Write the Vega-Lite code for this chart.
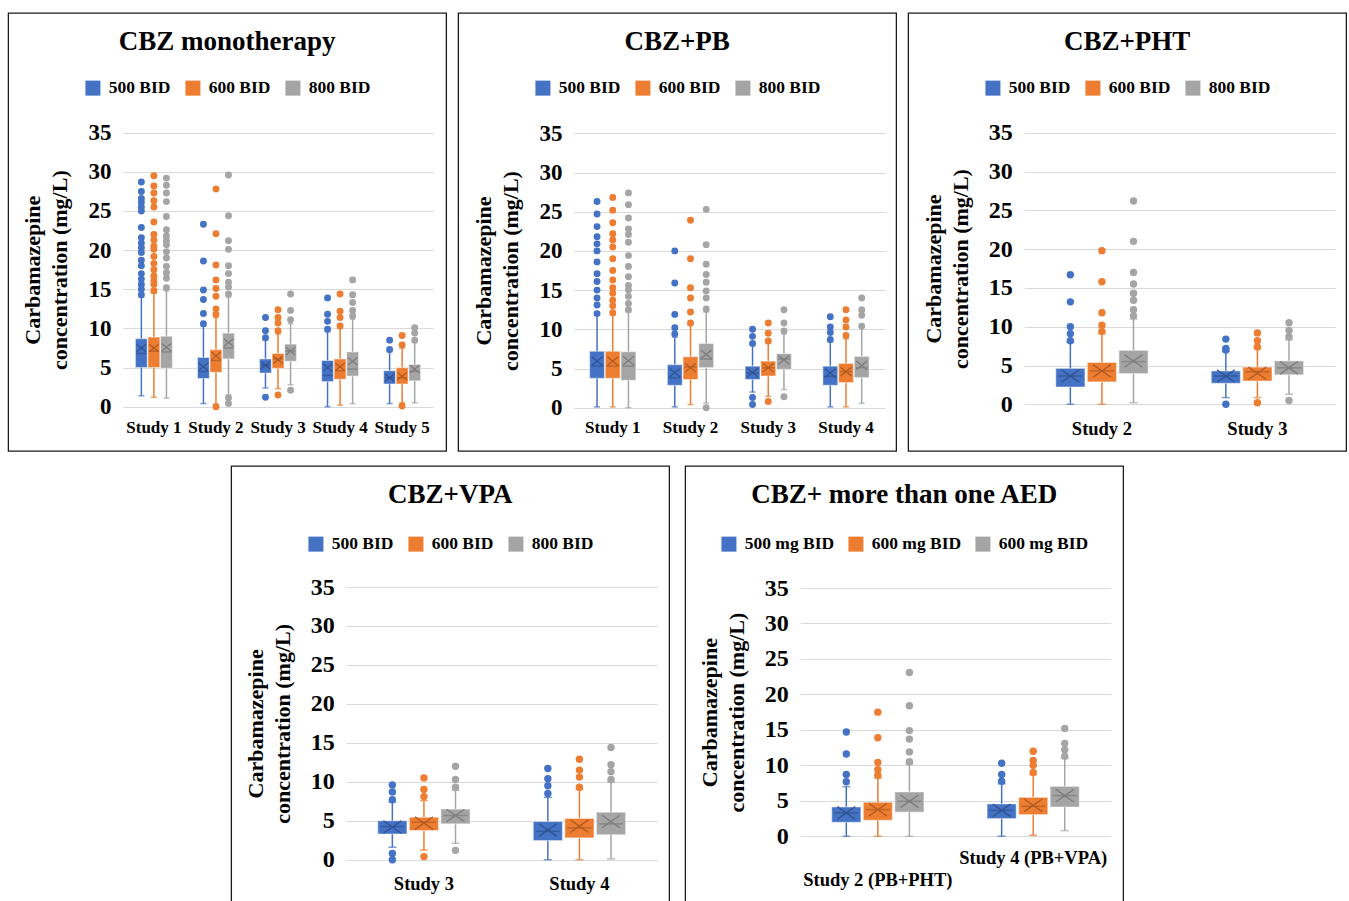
{
"$schema": "https://vega.github.io/schema/vega-lite/v6.json",
"padding": {"left": 7, "top": 12, "right": 0, "bottom": 0},
"background": "white",
"config": {
  "view": {"stroke": "#1a1a1a", "strokeWidth": 1.3},
  "font": "Liberation Serif",
  "title": {"font": "Liberation Serif", "fontSize": 27, "fontWeight": "bold", "color": "#000000", "anchor": "middle", "frame": "group", "baseline": "alphabetic"},
  "axis": {"labelFont": "Liberation Serif", "labelFontWeight": "bold", "labelColor": "#000000", "titleFont": "Liberation Serif", "titleFontWeight": "bold", "titleColor": "#000000", "ticks": false, "domain": false, "tickSize": 0, "minExtent": 0},
  "axisY": {"gridColor": "#d9d9d9", "gridWidth": 1.2, "labelPadding": 12, "titleFontSize": 22, "titleLineHeight": 27, "titlePadding": 16},
  "legend": {"orient": "top", "direction": "horizontal", "symbolType": "square", "symbolSize": 225, "symbolStrokeWidth": 0, "labelFont": "Liberation Serif", "labelFontWeight": "bold", "labelFontSize": 17.5, "labelColor": "#000000", "labelOffset": 7, "columnPadding": 13, "layout": {"top": {"anchor": "middle"}}}
},
"datasets": {
"boxes": [
{"panel":"A","study":"Study 1","dose":"500 BID","lo":1.4,"q1":5.0,"med":6.8,"q3":8.7,"hi":14.0,"mean":7.5},
{"panel":"A","study":"Study 1","dose":"600 BID","lo":1.2,"q1":5.0,"med":7.1,"q3":8.9,"hi":14.5,"mean":7.5},
{"panel":"A","study":"Study 1","dose":"800 BID","lo":1.1,"q1":4.9,"med":7.0,"q3":9.0,"hi":14.8,"mean":7.6},
{"panel":"A","study":"Study 2","dose":"500 BID","lo":0.4,"q1":3.6,"med":4.5,"q3":6.3,"hi":10.3,"mean":5.1},
{"panel":"A","study":"Study 2","dose":"600 BID","lo":0.3,"q1":4.4,"med":5.9,"q3":7.3,"hi":11.4,"mean":6.5},
{"panel":"A","study":"Study 2","dose":"800 BID","lo":1.5,"q1":6.1,"med":7.5,"q3":9.4,"hi":14.0,"mean":8.2},
{"panel":"A","study":"Study 3","dose":"500 BID","lo":2.4,"q1":4.3,"med":5.3,"q3":6.1,"hi":8.5,"mean":5.3},
{"panel":"A","study":"Study 3","dose":"600 BID","lo":2.3,"q1":4.9,"med":6.1,"q3":6.8,"hi":9.3,"mean":6.0},
{"panel":"A","study":"Study 3","dose":"800 BID","lo":2.8,"q1":5.8,"med":7.1,"q3":8.0,"hi":10.6,"mean":7.1},
{"panel":"A","study":"Study 4","dose":"500 BID","lo":0.0,"q1":3.2,"med":4.0,"q3":5.9,"hi":9.6,"mean":5.0},
{"panel":"A","study":"Study 4","dose":"600 BID","lo":0.2,"q1":3.5,"med":4.6,"q3":6.1,"hi":10.0,"mean":5.1},
{"panel":"A","study":"Study 4","dose":"800 BID","lo":0.4,"q1":3.9,"med":4.8,"q3":7.0,"hi":11.2,"mean":5.8},
{"panel":"A","study":"Study 5","dose":"500 BID","lo":0.4,"q1":2.9,"med":3.7,"q3":4.6,"hi":7.0,"mean":3.7},
{"panel":"A","study":"Study 5","dose":"600 BID","lo":0.5,"q1":2.9,"med":3.7,"q3":5.0,"hi":7.5,"mean":3.9},
{"panel":"A","study":"Study 5","dose":"800 BID","lo":0.5,"q1":3.3,"med":4.5,"q3":5.4,"hi":8.2,"mean":4.8},
{"panel":"B","study":"Study 1","dose":"500 BID","lo":0.1,"q1":3.74,"med":5.3,"q3":7.2,"hi":11.8,"mean":5.95},
{"panel":"B","study":"Study 1","dose":"600 BID","lo":0.1,"q1":3.74,"med":5.3,"q3":7.2,"hi":11.8,"mean":5.95},
{"panel":"B","study":"Study 1","dose":"800 BID","lo":0.0,"q1":3.5,"med":5.3,"q3":7.15,"hi":12.2,"mean":6.0},
{"panel":"B","study":"Study 2","dose":"500 BID","lo":0.1,"q1":2.85,"med":3.83,"q3":5.5,"hi":9.0,"mean":4.47},
{"panel":"B","study":"Study 2","dose":"600 BID","lo":0.4,"q1":3.6,"med":5.2,"q3":6.5,"hi":10.5,"mean":5.1},
{"panel":"B","study":"Study 2","dose":"800 BID","lo":0.6,"q1":5.1,"med":6.2,"q3":8.2,"hi":12.2,"mean":6.8},
{"panel":"B","study":"Study 3","dose":"500 BID","lo":2.0,"q1":3.6,"med":4.4,"q3":5.3,"hi":8.0,"mean":4.47},
{"panel":"B","study":"Study 3","dose":"600 BID","lo":1.45,"q1":4.04,"med":5.1,"q3":5.95,"hi":8.2,"mean":5.1},
{"panel":"B","study":"Study 3","dose":"800 BID","lo":2.3,"q1":4.9,"med":6.2,"q3":6.9,"hi":9.4,"mean":6.1},
{"panel":"B","study":"Study 4","dose":"500 BID","lo":0.1,"q1":2.85,"med":4.0,"q3":5.3,"hi":8.4,"mean":4.4},
{"panel":"B","study":"Study 4","dose":"600 BID","lo":0.1,"q1":3.2,"med":4.6,"q3":5.66,"hi":8.8,"mean":4.6},
{"panel":"B","study":"Study 4","dose":"800 BID","lo":0.55,"q1":3.83,"med":5.1,"q3":6.55,"hi":10.2,"mean":5.4},
{"panel":"C","study":"Study 2","dose":"500 BID","lo":0.0,"q1":2.23,"med":3.65,"q3":4.64,"hi":8.0,"mean":3.65},
{"panel":"C","study":"Study 2","dose":"600 BID","lo":0.0,"q1":2.88,"med":4.3,"q3":5.4,"hi":9.1,"mean":4.3},
{"panel":"C","study":"Study 2","dose":"800 BID","lo":0.2,"q1":3.95,"med":5.5,"q3":6.96,"hi":11.0,"mean":5.58},
{"panel":"C","study":"Study 3","dose":"500 BID","lo":0.86,"q1":2.7,"med":3.65,"q3":4.3,"hi":6.8,"mean":3.65},
{"panel":"C","study":"Study 3","dose":"600 BID","lo":0.86,"q1":3.0,"med":4.2,"q3":4.8,"hi":7.2,"mean":4.0},
{"panel":"C","study":"Study 3","dose":"800 BID","lo":1.3,"q1":3.8,"med":4.7,"q3":5.6,"hi":8.3,"mean":4.7},
{"panel":"D","study":"Study 3","dose":"500 BID","lo":1.6,"q1":3.3,"med":4.25,"q3":5.0,"hi":7.4,"mean":4.2},
{"panel":"D","study":"Study 3","dose":"600 BID","lo":1.25,"q1":3.74,"med":4.8,"q3":5.45,"hi":7.6,"mean":4.7},
{"panel":"D","study":"Study 3","dose":"800 BID","lo":2.1,"q1":4.6,"med":5.67,"q3":6.5,"hi":8.9,"mean":5.67},
{"panel":"D","study":"Study 4","dose":"500 BID","lo":0.0,"q1":2.45,"med":3.65,"q3":4.9,"hi":8.0,"mean":3.8},
{"panel":"D","study":"Study 4","dose":"600 BID","lo":0.0,"q1":2.8,"med":4.08,"q3":5.3,"hi":9.0,"mean":4.3},
{"panel":"D","study":"Study 4","dose":"800 BID","lo":0.1,"q1":3.2,"med":4.6,"q3":6.1,"hi":10.0,"mean":4.9},
{"panel":"E","study":"Study 2 (PB+PHT)","dose":"500 BID","lo":0.0,"q1":1.97,"med":3.29,"q3":4.13,"hi":7.0,"mean":3.3},
{"panel":"E","study":"Study 2 (PB+PHT)","dose":"600 BID","lo":0.0,"q1":2.25,"med":3.76,"q3":4.8,"hi":8.2,"mean":3.76},
{"panel":"E","study":"Study 2 (PB+PHT)","dose":"800 BID","lo":0.0,"q1":3.4,"med":4.93,"q3":6.25,"hi":10.2,"mean":4.93},
{"panel":"E","study":"Study 4 (PB+VPA)","dose":"500 BID","lo":0.0,"q1":2.49,"med":3.66,"q3":4.56,"hi":7.4,"mean":3.66},
{"panel":"E","study":"Study 4 (PB+VPA)","dose":"600 BID","lo":0.15,"q1":3.05,"med":4.23,"q3":5.5,"hi":8.7,"mean":4.37},
{"panel":"E","study":"Study 4 (PB+VPA)","dose":"800 BID","lo":0.8,"q1":4.13,"med":5.73,"q3":7.05,"hi":11.0,"mean":5.73}
],
"outliers": [
{"panel":"A","study":"Study 1","dose":"500 BID","value":28.7},{"panel":"A","study":"Study 1","dose":"500 BID","value":27.5},{"panel":"A","study":"Study 1","dose":"500 BID","value":26.6},{"panel":"A","study":"Study 1","dose":"500 BID","value":26.1},{"panel":"A","study":"Study 1","dose":"500 BID","value":25.5},{"panel":"A","study":"Study 1","dose":"500 BID","value":25.0},{"panel":"A","study":"Study 1","dose":"500 BID","value":22.9},{"panel":"A","study":"Study 1","dose":"500 BID","value":21.6},{"panel":"A","study":"Study 1","dose":"500 BID","value":20.9},{"panel":"A","study":"Study 1","dose":"500 BID","value":20.3},{"panel":"A","study":"Study 1","dose":"500 BID","value":19.7},{"panel":"A","study":"Study 1","dose":"500 BID","value":18.7},{"panel":"A","study":"Study 1","dose":"500 BID","value":18.0},{"panel":"A","study":"Study 1","dose":"500 BID","value":17.0},{"panel":"A","study":"Study 1","dose":"500 BID","value":16.3},{"panel":"A","study":"Study 1","dose":"500 BID","value":15.6},{"panel":"A","study":"Study 1","dose":"500 BID","value":15.0},{"panel":"A","study":"Study 1","dose":"500 BID","value":14.3},
{"panel":"A","study":"Study 1","dose":"600 BID","value":29.5},{"panel":"A","study":"Study 1","dose":"600 BID","value":28.2},{"panel":"A","study":"Study 1","dose":"600 BID","value":27.3},{"panel":"A","study":"Study 1","dose":"600 BID","value":26.3},{"panel":"A","study":"Study 1","dose":"600 BID","value":25.5},{"panel":"A","study":"Study 1","dose":"600 BID","value":23.6},{"panel":"A","study":"Study 1","dose":"600 BID","value":22.0},{"panel":"A","study":"Study 1","dose":"600 BID","value":21.3},{"panel":"A","study":"Study 1","dose":"600 BID","value":20.5},{"panel":"A","study":"Study 1","dose":"600 BID","value":20.1},{"panel":"A","study":"Study 1","dose":"600 BID","value":19.2},{"panel":"A","study":"Study 1","dose":"600 BID","value":18.3},{"panel":"A","study":"Study 1","dose":"600 BID","value":17.5},{"panel":"A","study":"Study 1","dose":"600 BID","value":16.7},{"panel":"A","study":"Study 1","dose":"600 BID","value":16.1},{"panel":"A","study":"Study 1","dose":"600 BID","value":15.6},{"panel":"A","study":"Study 1","dose":"600 BID","value":14.8},
{"panel":"A","study":"Study 1","dose":"800 BID","value":29.2},{"panel":"A","study":"Study 1","dose":"800 BID","value":28.3},{"panel":"A","study":"Study 1","dose":"800 BID","value":27.3},{"panel":"A","study":"Study 1","dose":"800 BID","value":26.2},{"panel":"A","study":"Study 1","dose":"800 BID","value":24.3},{"panel":"A","study":"Study 1","dose":"800 BID","value":22.6},{"panel":"A","study":"Study 1","dose":"800 BID","value":21.8},{"panel":"A","study":"Study 1","dose":"800 BID","value":21.2},{"panel":"A","study":"Study 1","dose":"800 BID","value":20.7},{"panel":"A","study":"Study 1","dose":"800 BID","value":19.8},{"panel":"A","study":"Study 1","dose":"800 BID","value":19.0},{"panel":"A","study":"Study 1","dose":"800 BID","value":17.9},{"panel":"A","study":"Study 1","dose":"800 BID","value":17.1},{"panel":"A","study":"Study 1","dose":"800 BID","value":16.4},{"panel":"A","study":"Study 1","dose":"800 BID","value":15.2},
{"panel":"A","study":"Study 2","dose":"500 BID","value":23.3},{"panel":"A","study":"Study 2","dose":"500 BID","value":18.6},{"panel":"A","study":"Study 2","dose":"500 BID","value":14.9},{"panel":"A","study":"Study 2","dose":"500 BID","value":13.7},{"panel":"A","study":"Study 2","dose":"500 BID","value":11.9},{"panel":"A","study":"Study 2","dose":"500 BID","value":10.6},
{"panel":"A","study":"Study 2","dose":"600 BID","value":27.8},{"panel":"A","study":"Study 2","dose":"600 BID","value":22.1},{"panel":"A","study":"Study 2","dose":"600 BID","value":18.1},{"panel":"A","study":"Study 2","dose":"600 BID","value":16.2},{"panel":"A","study":"Study 2","dose":"600 BID","value":15.1},{"panel":"A","study":"Study 2","dose":"600 BID","value":14.1},{"panel":"A","study":"Study 2","dose":"600 BID","value":12.5},{"panel":"A","study":"Study 2","dose":"600 BID","value":11.8},{"panel":"A","study":"Study 2","dose":"600 BID","value":0.0},
{"panel":"A","study":"Study 2","dose":"800 BID","value":29.6},{"panel":"A","study":"Study 2","dose":"800 BID","value":24.4},{"panel":"A","study":"Study 2","dose":"800 BID","value":21.2},{"panel":"A","study":"Study 2","dose":"800 BID","value":20.1},{"panel":"A","study":"Study 2","dose":"800 BID","value":18.0},{"panel":"A","study":"Study 2","dose":"800 BID","value":17.0},{"panel":"A","study":"Study 2","dose":"800 BID","value":15.9},{"panel":"A","study":"Study 2","dose":"800 BID","value":15.3},{"panel":"A","study":"Study 2","dose":"800 BID","value":14.4},{"panel":"A","study":"Study 2","dose":"800 BID","value":1.1},{"panel":"A","study":"Study 2","dose":"800 BID","value":0.4},
{"panel":"A","study":"Study 3","dose":"500 BID","value":11.4},{"panel":"A","study":"Study 3","dose":"500 BID","value":9.7},{"panel":"A","study":"Study 3","dose":"500 BID","value":8.8},{"panel":"A","study":"Study 3","dose":"500 BID","value":1.2},
{"panel":"A","study":"Study 3","dose":"600 BID","value":12.4},{"panel":"A","study":"Study 3","dose":"600 BID","value":11.4},{"panel":"A","study":"Study 3","dose":"600 BID","value":10.7},{"panel":"A","study":"Study 3","dose":"600 BID","value":9.7},{"panel":"A","study":"Study 3","dose":"600 BID","value":1.5},
{"panel":"A","study":"Study 3","dose":"800 BID","value":14.4},{"panel":"A","study":"Study 3","dose":"800 BID","value":12.3},{"panel":"A","study":"Study 3","dose":"800 BID","value":11.1},{"panel":"A","study":"Study 3","dose":"800 BID","value":2.1},
{"panel":"A","study":"Study 4","dose":"500 BID","value":13.9},{"panel":"A","study":"Study 4","dose":"500 BID","value":11.8},{"panel":"A","study":"Study 4","dose":"500 BID","value":10.9},{"panel":"A","study":"Study 4","dose":"500 BID","value":9.9},
{"panel":"A","study":"Study 4","dose":"600 BID","value":14.4},{"panel":"A","study":"Study 4","dose":"600 BID","value":12.2},{"panel":"A","study":"Study 4","dose":"600 BID","value":11.4},{"panel":"A","study":"Study 4","dose":"600 BID","value":10.3},
{"panel":"A","study":"Study 4","dose":"800 BID","value":16.2},{"panel":"A","study":"Study 4","dose":"800 BID","value":14.3},{"panel":"A","study":"Study 4","dose":"800 BID","value":13.3},{"panel":"A","study":"Study 4","dose":"800 BID","value":12.3},{"panel":"A","study":"Study 4","dose":"800 BID","value":11.6},
{"panel":"A","study":"Study 5","dose":"500 BID","value":8.5},{"panel":"A","study":"Study 5","dose":"500 BID","value":7.3},
{"panel":"A","study":"Study 5","dose":"600 BID","value":9.1},{"panel":"A","study":"Study 5","dose":"600 BID","value":7.9},{"panel":"A","study":"Study 5","dose":"600 BID","value":0.1},
{"panel":"A","study":"Study 5","dose":"800 BID","value":10.1},{"panel":"A","study":"Study 5","dose":"800 BID","value":9.4},{"panel":"A","study":"Study 5","dose":"800 BID","value":8.5},
{"panel":"B","study":"Study 1","dose":"500 BID","value":26.3},{"panel":"B","study":"Study 1","dose":"500 BID","value":24.7},{"panel":"B","study":"Study 1","dose":"500 BID","value":23.1},{"panel":"B","study":"Study 1","dose":"500 BID","value":21.8},{"panel":"B","study":"Study 1","dose":"500 BID","value":20.9},{"panel":"B","study":"Study 1","dose":"500 BID","value":20.0},{"panel":"B","study":"Study 1","dose":"500 BID","value":18.6},{"panel":"B","study":"Study 1","dose":"500 BID","value":17.1},{"panel":"B","study":"Study 1","dose":"500 BID","value":16.1},{"panel":"B","study":"Study 1","dose":"500 BID","value":15.0},{"panel":"B","study":"Study 1","dose":"500 BID","value":14.0},{"panel":"B","study":"Study 1","dose":"500 BID","value":13.1},{"panel":"B","study":"Study 1","dose":"500 BID","value":12.0},
{"panel":"B","study":"Study 1","dose":"600 BID","value":26.8},{"panel":"B","study":"Study 1","dose":"600 BID","value":25.2},{"panel":"B","study":"Study 1","dose":"600 BID","value":23.6},{"panel":"B","study":"Study 1","dose":"600 BID","value":22.2},{"panel":"B","study":"Study 1","dose":"600 BID","value":21.4},{"panel":"B","study":"Study 1","dose":"600 BID","value":20.5},{"panel":"B","study":"Study 1","dose":"600 BID","value":19.0},{"panel":"B","study":"Study 1","dose":"600 BID","value":17.5},{"panel":"B","study":"Study 1","dose":"600 BID","value":16.3},{"panel":"B","study":"Study 1","dose":"600 BID","value":15.3},{"panel":"B","study":"Study 1","dose":"600 BID","value":14.6},{"panel":"B","study":"Study 1","dose":"600 BID","value":13.7},{"panel":"B","study":"Study 1","dose":"600 BID","value":13.0},{"panel":"B","study":"Study 1","dose":"600 BID","value":12.1},
{"panel":"B","study":"Study 1","dose":"800 BID","value":27.4},{"panel":"B","study":"Study 1","dose":"800 BID","value":25.9},{"panel":"B","study":"Study 1","dose":"800 BID","value":24.2},{"panel":"B","study":"Study 1","dose":"800 BID","value":22.8},{"panel":"B","study":"Study 1","dose":"800 BID","value":22.1},{"panel":"B","study":"Study 1","dose":"800 BID","value":21.1},{"panel":"B","study":"Study 1","dose":"800 BID","value":19.4},{"panel":"B","study":"Study 1","dose":"800 BID","value":18.0},{"panel":"B","study":"Study 1","dose":"800 BID","value":16.7},{"panel":"B","study":"Study 1","dose":"800 BID","value":15.6},{"panel":"B","study":"Study 1","dose":"800 BID","value":15.0},{"panel":"B","study":"Study 1","dose":"800 BID","value":14.2},{"panel":"B","study":"Study 1","dose":"800 BID","value":13.3},{"panel":"B","study":"Study 1","dose":"800 BID","value":12.5},
{"panel":"B","study":"Study 2","dose":"500 BID","value":20.0},{"panel":"B","study":"Study 2","dose":"500 BID","value":15.9},{"panel":"B","study":"Study 2","dose":"500 BID","value":11.9},{"panel":"B","study":"Study 2","dose":"500 BID","value":10.2},{"panel":"B","study":"Study 2","dose":"500 BID","value":9.4},
{"panel":"B","study":"Study 2","dose":"600 BID","value":23.9},{"panel":"B","study":"Study 2","dose":"600 BID","value":19.0},{"panel":"B","study":"Study 2","dose":"600 BID","value":15.3},{"panel":"B","study":"Study 2","dose":"600 BID","value":14.0},{"panel":"B","study":"Study 2","dose":"600 BID","value":12.2},{"panel":"B","study":"Study 2","dose":"600 BID","value":10.8},
{"panel":"B","study":"Study 2","dose":"800 BID","value":25.3},{"panel":"B","study":"Study 2","dose":"800 BID","value":20.8},{"panel":"B","study":"Study 2","dose":"800 BID","value":18.3},{"panel":"B","study":"Study 2","dose":"800 BID","value":17.0},{"panel":"B","study":"Study 2","dose":"800 BID","value":16.0},{"panel":"B","study":"Study 2","dose":"800 BID","value":14.9},{"panel":"B","study":"Study 2","dose":"800 BID","value":14.0},{"panel":"B","study":"Study 2","dose":"800 BID","value":12.6},{"panel":"B","study":"Study 2","dose":"800 BID","value":0.0},
{"panel":"B","study":"Study 3","dose":"500 BID","value":10.0},{"panel":"B","study":"Study 3","dose":"500 BID","value":9.1},{"panel":"B","study":"Study 3","dose":"500 BID","value":8.2},{"panel":"B","study":"Study 3","dose":"500 BID","value":1.3},{"panel":"B","study":"Study 3","dose":"500 BID","value":0.4},
{"panel":"B","study":"Study 3","dose":"600 BID","value":10.8},{"panel":"B","study":"Study 3","dose":"600 BID","value":9.5},{"panel":"B","study":"Study 3","dose":"600 BID","value":8.5},{"panel":"B","study":"Study 3","dose":"600 BID","value":0.8},
{"panel":"B","study":"Study 3","dose":"800 BID","value":12.5},{"panel":"B","study":"Study 3","dose":"800 BID","value":10.8},{"panel":"B","study":"Study 3","dose":"800 BID","value":9.8},{"panel":"B","study":"Study 3","dose":"800 BID","value":1.4},
{"panel":"B","study":"Study 4","dose":"500 BID","value":11.6},{"panel":"B","study":"Study 4","dose":"500 BID","value":10.3},{"panel":"B","study":"Study 4","dose":"500 BID","value":9.6},{"panel":"B","study":"Study 4","dose":"500 BID","value":8.7},
{"panel":"B","study":"Study 4","dose":"600 BID","value":12.5},{"panel":"B","study":"Study 4","dose":"600 BID","value":11.2},{"panel":"B","study":"Study 4","dose":"600 BID","value":10.3},{"panel":"B","study":"Study 4","dose":"600 BID","value":9.2},
{"panel":"B","study":"Study 4","dose":"800 BID","value":14.0},{"panel":"B","study":"Study 4","dose":"800 BID","value":12.5},{"panel":"B","study":"Study 4","dose":"800 BID","value":11.8},{"panel":"B","study":"Study 4","dose":"800 BID","value":10.4},
{"panel":"C","study":"Study 2","dose":"500 BID","value":16.7},{"panel":"C","study":"Study 2","dose":"500 BID","value":13.2},{"panel":"C","study":"Study 2","dose":"500 BID","value":10.0},{"panel":"C","study":"Study 2","dose":"500 BID","value":9.1},{"panel":"C","study":"Study 2","dose":"500 BID","value":8.2},
{"panel":"C","study":"Study 2","dose":"600 BID","value":19.8},{"panel":"C","study":"Study 2","dose":"600 BID","value":15.8},{"panel":"C","study":"Study 2","dose":"600 BID","value":11.8},{"panel":"C","study":"Study 2","dose":"600 BID","value":10.2},{"panel":"C","study":"Study 2","dose":"600 BID","value":9.4},
{"panel":"C","study":"Study 2","dose":"800 BID","value":26.2},{"panel":"C","study":"Study 2","dose":"800 BID","value":21.0},{"panel":"C","study":"Study 2","dose":"800 BID","value":17.0},{"panel":"C","study":"Study 2","dose":"800 BID","value":15.5},{"panel":"C","study":"Study 2","dose":"800 BID","value":14.3},{"panel":"C","study":"Study 2","dose":"800 BID","value":13.4},{"panel":"C","study":"Study 2","dose":"800 BID","value":12.2},{"panel":"C","study":"Study 2","dose":"800 BID","value":11.4},
{"panel":"C","study":"Study 3","dose":"500 BID","value":8.4},{"panel":"C","study":"Study 3","dose":"500 BID","value":7.2},{"panel":"C","study":"Study 3","dose":"500 BID","value":7.0},{"panel":"C","study":"Study 3","dose":"500 BID","value":0.0},
{"panel":"C","study":"Study 3","dose":"600 BID","value":9.2},{"panel":"C","study":"Study 3","dose":"600 BID","value":8.2},{"panel":"C","study":"Study 3","dose":"600 BID","value":7.4},{"panel":"C","study":"Study 3","dose":"600 BID","value":0.2},
{"panel":"C","study":"Study 3","dose":"800 BID","value":10.5},{"panel":"C","study":"Study 3","dose":"800 BID","value":9.5},{"panel":"C","study":"Study 3","dose":"800 BID","value":8.7},{"panel":"C","study":"Study 3","dose":"800 BID","value":0.5},
{"panel":"D","study":"Study 3","dose":"500 BID","value":9.6},{"panel":"D","study":"Study 3","dose":"500 BID","value":8.7},{"panel":"D","study":"Study 3","dose":"500 BID","value":7.7},{"panel":"D","study":"Study 3","dose":"500 BID","value":0.8},{"panel":"D","study":"Study 3","dose":"500 BID","value":0.0},
{"panel":"D","study":"Study 3","dose":"600 BID","value":10.5},{"panel":"D","study":"Study 3","dose":"600 BID","value":9.0},{"panel":"D","study":"Study 3","dose":"600 BID","value":8.1},{"panel":"D","study":"Study 3","dose":"600 BID","value":0.4},
{"panel":"D","study":"Study 3","dose":"800 BID","value":12.0},{"panel":"D","study":"Study 3","dose":"800 BID","value":10.3},{"panel":"D","study":"Study 3","dose":"800 BID","value":9.3},{"panel":"D","study":"Study 3","dose":"800 BID","value":1.2},
{"panel":"D","study":"Study 4","dose":"500 BID","value":11.7},{"panel":"D","study":"Study 4","dose":"500 BID","value":10.4},{"panel":"D","study":"Study 4","dose":"500 BID","value":9.5},{"panel":"D","study":"Study 4","dose":"500 BID","value":8.5},
{"panel":"D","study":"Study 4","dose":"600 BID","value":12.9},{"panel":"D","study":"Study 4","dose":"600 BID","value":11.5},{"panel":"D","study":"Study 4","dose":"600 BID","value":10.6},{"panel":"D","study":"Study 4","dose":"600 BID","value":9.3},
{"panel":"D","study":"Study 4","dose":"800 BID","value":14.4},{"panel":"D","study":"Study 4","dose":"800 BID","value":12.2},{"panel":"D","study":"Study 4","dose":"800 BID","value":11.3},{"panel":"D","study":"Study 4","dose":"800 BID","value":10.3},
{"panel":"E","study":"Study 2 (PB+PHT)","dose":"500 BID","value":14.7},{"panel":"E","study":"Study 2 (PB+PHT)","dose":"500 BID","value":11.6},{"panel":"E","study":"Study 2 (PB+PHT)","dose":"500 BID","value":8.7},{"panel":"E","study":"Study 2 (PB+PHT)","dose":"500 BID","value":7.7},
{"panel":"E","study":"Study 2 (PB+PHT)","dose":"600 BID","value":17.5},{"panel":"E","study":"Study 2 (PB+PHT)","dose":"600 BID","value":13.9},{"panel":"E","study":"Study 2 (PB+PHT)","dose":"600 BID","value":10.4},{"panel":"E","study":"Study 2 (PB+PHT)","dose":"600 BID","value":9.4},{"panel":"E","study":"Study 2 (PB+PHT)","dose":"600 BID","value":8.6},
{"panel":"E","study":"Study 2 (PB+PHT)","dose":"800 BID","value":23.1},{"panel":"E","study":"Study 2 (PB+PHT)","dose":"800 BID","value":18.4},{"panel":"E","study":"Study 2 (PB+PHT)","dose":"800 BID","value":14.9},{"panel":"E","study":"Study 2 (PB+PHT)","dose":"800 BID","value":13.7},{"panel":"E","study":"Study 2 (PB+PHT)","dose":"800 BID","value":11.9},{"panel":"E","study":"Study 2 (PB+PHT)","dose":"800 BID","value":10.5},
{"panel":"E","study":"Study 4 (PB+VPA)","dose":"500 BID","value":10.3},{"panel":"E","study":"Study 4 (PB+VPA)","dose":"500 BID","value":8.7},{"panel":"E","study":"Study 4 (PB+VPA)","dose":"500 BID","value":7.75},
{"panel":"E","study":"Study 4 (PB+VPA)","dose":"600 BID","value":12.0},{"panel":"E","study":"Study 4 (PB+VPA)","dose":"600 BID","value":10.7},{"panel":"E","study":"Study 4 (PB+VPA)","dose":"600 BID","value":10.0},{"panel":"E","study":"Study 4 (PB+VPA)","dose":"600 BID","value":9.0},
{"panel":"E","study":"Study 4 (PB+VPA)","dose":"800 BID","value":15.2},{"panel":"E","study":"Study 4 (PB+VPA)","dose":"800 BID","value":13.1},{"panel":"E","study":"Study 4 (PB+VPA)","dose":"800 BID","value":12.2},{"panel":"E","study":"Study 4 (PB+VPA)","dose":"800 BID","value":11.3}
]
},
"spacing": 13,
"center": true,
"resolve": {"scale": {"x": "independent", "y": "independent", "xOffset": "independent", "color": "independent", "fill": "independent", "stroke": "independent"}, "legend": {"color": "independent"}},
"vconcat": [
{
"spacing": 10,
"resolve": {"scale": {"x": "independent", "y": "independent", "xOffset": "independent", "color": "independent", "fill": "independent", "stroke": "independent"}, "legend": {"color": "independent"}},
"hconcat": [
{
 "width": 438, "height": 438,
 "title": {"text": "CBZ monotherapy", "offset": -43},
 "encoding": {
  "x": {"field": "study", "type": "nominal", "scale": {"range": [114.7, 425], "paddingInner": 0, "paddingOuter": 0}, "axis": {"title": null, "offset": -44.3, "labelPadding": 13, "labelAngle": 0, "labelFontSize": 17, "grid": false, "labelOverlap": false}},
  "xOffset": {"field": "dose", "type": "nominal", "scale": {"paddingInner": 0.05, "paddingOuter": 1.49}},
  "color": {"field": "dose", "type": "nominal", "scale": {"range": ["#4472C4", "#ED7D31", "#A5A5A5"]}, "legend": {"title": null, "offset": -84, "symbolType": "square"}}
 },
 "layer": [
  {"data": {"name": "boxes"}, "transform": [{"filter": "datum.panel == 'A'"}], "mark": {"type": "bar", "stroke": "white", "strokeOpacity": 0.45, "strokeWidth": 1.2},
   "encoding": {"y": {"field": "q1", "type": "quantitative", "title": ["Carbamazepine", "concentration (mg/L)"], "scale": {"domain": [0, 35], "range": [393.7, 119.7], "nice": false, "zero": false}, "axis": {"offset": -114.7, "values": [0, 5, 10, 15, 20, 25, 30, 35], "labelFontSize": 23}}, "y2": {"field": "q3"}, "opacity": {"value": 0}}},
  {"data": {"name": "boxes"}, "transform": [{"filter": "datum.panel == 'A'"}], "mark": {"type": "rule", "strokeWidth": 1.5},
   "encoding": {"y": {"field": "lo", "type": "quantitative", "title": ["Carbamazepine", "concentration (mg/L)"]}, "y2": {"field": "hi"}}},
  {"data": {"name": "boxes"}, "transform": [{"filter": "datum.panel == 'A'"}], "mark": {"type": "tick", "thickness": 1.5, "size": 6},
   "encoding": {"y": {"field": "lo", "type": "quantitative", "title": ["Carbamazepine", "concentration (mg/L)"]}}},
  {"data": {"name": "boxes"}, "transform": [{"filter": "datum.panel == 'A'"}], "mark": {"type": "tick", "thickness": 1.5, "size": 6},
   "encoding": {"y": {"field": "hi", "type": "quantitative", "title": ["Carbamazepine", "concentration (mg/L)"]}}},
  {"data": {"name": "boxes"}, "transform": [{"filter": "datum.panel == 'A'"}], "mark": {"type": "bar", "stroke": "white", "strokeOpacity": 0.45, "strokeWidth": 1.2},
   "encoding": {"y": {"field": "q1", "type": "quantitative", "title": ["Carbamazepine", "concentration (mg/L)"]}, "y2": {"field": "q3"}}},
  {"data": {"name": "boxes"}, "transform": [{"filter": "datum.panel == 'A'"}], "mark": {"type": "tick", "thickness": 1.5, "size": 10},
   "encoding": {"y": {"field": "med", "type": "quantitative", "title": ["Carbamazepine", "concentration (mg/L)"]}, "fill": {"field": "dose", "type": "nominal", "scale": {"range": ["#2F528F", "#AE5A21", "#7B7B7B"]}, "legend": null}}},
  {"data": {"name": "boxes"}, "transform": [{"filter": "datum.panel == 'A'"}], "mark": {"type": "point", "shape": "M-1,-0.8L1,0.8M-1,0.8L1,-0.8", "size": 90, "filled": false, "strokeWidth": 1.2, "opacity": 1},
   "encoding": {"y": {"field": "mean", "type": "quantitative", "title": ["Carbamazepine", "concentration (mg/L)"]}, "stroke": {"field": "dose", "type": "nominal", "scale": {"range": ["#2F528F", "#AE5A21", "#7B7B7B"]}, "legend": null}}},
  {"data": {"name": "outliers"}, "transform": [{"filter": "datum.panel == 'A'"}], "mark": {"type": "point", "filled": true, "size": 48, "opacity": 1},
   "encoding": {"y": {"field": "value", "type": "quantitative", "title": ["Carbamazepine", "concentration (mg/L)"]}}}
 ]
},
{
 "width": 438, "height": 438,
 "title": {"text": "CBZ+PB", "offset": -43},
 "encoding": {
  "x": {"field": "study", "type": "nominal", "scale": {"range": [115.7, 426.7], "paddingInner": 0, "paddingOuter": 0}, "axis": {"title": null, "offset": -43.3, "labelPadding": 12, "labelAngle": 0, "labelFontSize": 17, "grid": false, "labelOverlap": false}},
  "xOffset": {"field": "dose", "type": "nominal", "scale": {"paddingInner": 0.05, "paddingOuter": 1.62}},
  "color": {"field": "dose", "type": "nominal", "scale": {"range": ["#4472C4", "#ED7D31", "#A5A5A5"]}, "legend": {"title": null, "offset": -84, "symbolType": "square"}}
 },
 "layer": [
  {"data": {"name": "boxes"}, "transform": [{"filter": "datum.panel == 'B'"}], "mark": {"type": "bar", "stroke": "white", "strokeOpacity": 0.45, "strokeWidth": 1.2},
   "encoding": {"y": {"field": "q1", "type": "quantitative", "title": ["Carbamazepine", "concentration (mg/L)"], "scale": {"domain": [0, 35], "range": [394.7, 120.3], "nice": false, "zero": false}, "axis": {"offset": -115.7, "values": [0, 5, 10, 15, 20, 25, 30, 35], "labelFontSize": 23}}, "y2": {"field": "q3"}, "opacity": {"value": 0}}},
  {"data": {"name": "boxes"}, "transform": [{"filter": "datum.panel == 'B'"}], "mark": {"type": "rule", "strokeWidth": 1.5},
   "encoding": {"y": {"field": "lo", "type": "quantitative", "title": ["Carbamazepine", "concentration (mg/L)"]}, "y2": {"field": "hi"}}},
  {"data": {"name": "boxes"}, "transform": [{"filter": "datum.panel == 'B'"}], "mark": {"type": "tick", "thickness": 1.5, "size": 6},
   "encoding": {"y": {"field": "lo", "type": "quantitative", "title": ["Carbamazepine", "concentration (mg/L)"]}}},
  {"data": {"name": "boxes"}, "transform": [{"filter": "datum.panel == 'B'"}], "mark": {"type": "tick", "thickness": 1.5, "size": 6},
   "encoding": {"y": {"field": "hi", "type": "quantitative", "title": ["Carbamazepine", "concentration (mg/L)"]}}},
  {"data": {"name": "boxes"}, "transform": [{"filter": "datum.panel == 'B'"}], "mark": {"type": "bar", "stroke": "white", "strokeOpacity": 0.45, "strokeWidth": 1.2},
   "encoding": {"y": {"field": "q1", "type": "quantitative", "title": ["Carbamazepine", "concentration (mg/L)"]}, "y2": {"field": "q3"}}},
  {"data": {"name": "boxes"}, "transform": [{"filter": "datum.panel == 'B'"}], "mark": {"type": "tick", "thickness": 1.5, "size": 12},
   "encoding": {"y": {"field": "med", "type": "quantitative", "title": ["Carbamazepine", "concentration (mg/L)"]}, "fill": {"field": "dose", "type": "nominal", "scale": {"range": ["#2F528F", "#AE5A21", "#7B7B7B"]}, "legend": null}}},
  {"data": {"name": "boxes"}, "transform": [{"filter": "datum.panel == 'B'"}], "mark": {"type": "point", "shape": "M-1,-0.8L1,0.8M-1,0.8L1,-0.8", "size": 120, "filled": false, "strokeWidth": 1.2, "opacity": 1},
   "encoding": {"y": {"field": "mean", "type": "quantitative", "title": ["Carbamazepine", "concentration (mg/L)"]}, "stroke": {"field": "dose", "type": "nominal", "scale": {"range": ["#2F528F", "#AE5A21", "#7B7B7B"]}, "legend": null}}},
  {"data": {"name": "outliers"}, "transform": [{"filter": "datum.panel == 'B'"}], "mark": {"type": "point", "filled": true, "size": 48, "opacity": 1},
   "encoding": {"y": {"field": "value", "type": "quantitative", "title": ["Carbamazepine", "concentration (mg/L)"]}}}
 ]
},
{
 "width": 438, "height": 438,
 "title": {"text": "CBZ+PHT", "offset": -43},
 "encoding": {
  "x": {"field": "study", "type": "nominal", "scale": {"range": [116, 427], "paddingInner": 0, "paddingOuter": 0}, "axis": {"title": null, "offset": -46.7, "labelPadding": 15, "labelAngle": 0, "labelFontSize": 18.5, "grid": false, "labelOverlap": false}},
  "xOffset": {"field": "dose", "type": "nominal", "scale": {"paddingInner": 0.075, "paddingOuter": 1.46}},
  "color": {"field": "dose", "type": "nominal", "scale": {"range": ["#4472C4", "#ED7D31", "#A5A5A5"]}, "legend": {"title": null, "offset": -84, "symbolType": "square"}}
 },
 "layer": [
  {"data": {"name": "boxes"}, "transform": [{"filter": "datum.panel == 'C'"}], "mark": {"type": "bar", "stroke": "white", "strokeOpacity": 0.45, "strokeWidth": 1.2},
   "encoding": {"y": {"field": "q1", "type": "quantitative", "title": ["Carbamazepine", "concentration (mg/L)"], "scale": {"domain": [0, 35], "range": [391.3, 119.7], "nice": false, "zero": false}, "axis": {"offset": -116, "values": [0, 5, 10, 15, 20, 25, 30, 35], "labelFontSize": 24}}, "y2": {"field": "q3"}, "opacity": {"value": 0}}},
  {"data": {"name": "boxes"}, "transform": [{"filter": "datum.panel == 'C'"}], "mark": {"type": "rule", "strokeWidth": 1.5},
   "encoding": {"y": {"field": "lo", "type": "quantitative", "title": ["Carbamazepine", "concentration (mg/L)"]}, "y2": {"field": "hi"}}},
  {"data": {"name": "boxes"}, "transform": [{"filter": "datum.panel == 'C'"}], "mark": {"type": "tick", "thickness": 1.5, "size": 8},
   "encoding": {"y": {"field": "lo", "type": "quantitative", "title": ["Carbamazepine", "concentration (mg/L)"]}}},
  {"data": {"name": "boxes"}, "transform": [{"filter": "datum.panel == 'C'"}], "mark": {"type": "tick", "thickness": 1.5, "size": 8},
   "encoding": {"y": {"field": "hi", "type": "quantitative", "title": ["Carbamazepine", "concentration (mg/L)"]}}},
  {"data": {"name": "boxes"}, "transform": [{"filter": "datum.panel == 'C'"}], "mark": {"type": "bar", "stroke": "white", "strokeOpacity": 0.45, "strokeWidth": 1.2},
   "encoding": {"y": {"field": "q1", "type": "quantitative", "title": ["Carbamazepine", "concentration (mg/L)"]}, "y2": {"field": "q3"}}},
  {"data": {"name": "boxes"}, "transform": [{"filter": "datum.panel == 'C'"}], "mark": {"type": "tick", "thickness": 1.5, "size": 24},
   "encoding": {"y": {"field": "med", "type": "quantitative", "title": ["Carbamazepine", "concentration (mg/L)"]}, "fill": {"field": "dose", "type": "nominal", "scale": {"range": ["#2F528F", "#AE5A21", "#7B7B7B"]}, "legend": null}}},
  {"data": {"name": "boxes"}, "transform": [{"filter": "datum.panel == 'C'"}], "mark": {"type": "point", "shape": "M-1,-0.7L1,0.7M-1,0.7L1,-0.7", "size": 324, "filled": false, "strokeWidth": 1.3, "opacity": 1},
   "encoding": {"y": {"field": "mean", "type": "quantitative", "title": ["Carbamazepine", "concentration (mg/L)"]}, "stroke": {"field": "dose", "type": "nominal", "scale": {"range": ["#2F528F", "#AE5A21", "#7B7B7B"]}, "legend": null}}},
  {"data": {"name": "outliers"}, "transform": [{"filter": "datum.panel == 'C'"}], "mark": {"type": "point", "filled": true, "size": 55, "opacity": 1},
   "encoding": {"y": {"field": "value", "type": "quantitative", "title": ["Carbamazepine", "concentration (mg/L)"]}}}
 ]
}
]
},
{
"spacing": 14,
"resolve": {"scale": {"x": "independent", "y": "independent", "xOffset": "independent", "color": "independent", "fill": "independent", "stroke": "independent"}, "legend": {"color": "independent"}},
"hconcat": [
{
 "width": 438, "height": 440,
 "title": {"text": "CBZ+VPA", "offset": -43},
 "encoding": {
  "x": {"field": "study", "type": "nominal", "scale": {"range": [115, 426], "paddingInner": 0, "paddingOuter": 0}, "axis": {"title": null, "offset": -46.3, "labelPadding": 15, "labelAngle": 0, "labelFontSize": 18.5, "grid": false, "labelOverlap": false}},
  "xOffset": {"field": "dose", "type": "nominal", "scale": {"paddingInner": 0.075, "paddingOuter": 1.46}},
  "color": {"field": "dose", "type": "nominal", "scale": {"range": ["#4472C4", "#ED7D31", "#A5A5A5"]}, "legend": {"title": null, "offset": -87, "symbolType": "square"}}
 },
 "layer": [
  {"data": {"name": "boxes"}, "transform": [{"filter": "datum.panel == 'D'"}], "mark": {"type": "bar", "stroke": "white", "strokeOpacity": 0.45, "strokeWidth": 1.2},
   "encoding": {"y": {"field": "q1", "type": "quantitative", "title": ["Carbamazepine", "concentration (mg/L)"], "scale": {"domain": [0, 35], "range": [393.7, 121], "nice": false, "zero": false}, "axis": {"offset": -115, "values": [0, 5, 10, 15, 20, 25, 30, 35], "labelFontSize": 24}}, "y2": {"field": "q3"}, "opacity": {"value": 0}}},
  {"data": {"name": "boxes"}, "transform": [{"filter": "datum.panel == 'D'"}], "mark": {"type": "rule", "strokeWidth": 1.5},
   "encoding": {"y": {"field": "lo", "type": "quantitative", "title": ["Carbamazepine", "concentration (mg/L)"]}, "y2": {"field": "hi"}}},
  {"data": {"name": "boxes"}, "transform": [{"filter": "datum.panel == 'D'"}], "mark": {"type": "tick", "thickness": 1.5, "size": 8},
   "encoding": {"y": {"field": "lo", "type": "quantitative", "title": ["Carbamazepine", "concentration (mg/L)"]}}},
  {"data": {"name": "boxes"}, "transform": [{"filter": "datum.panel == 'D'"}], "mark": {"type": "tick", "thickness": 1.5, "size": 8},
   "encoding": {"y": {"field": "hi", "type": "quantitative", "title": ["Carbamazepine", "concentration (mg/L)"]}}},
  {"data": {"name": "boxes"}, "transform": [{"filter": "datum.panel == 'D'"}], "mark": {"type": "bar", "stroke": "white", "strokeOpacity": 0.45, "strokeWidth": 1.2},
   "encoding": {"y": {"field": "q1", "type": "quantitative", "title": ["Carbamazepine", "concentration (mg/L)"]}, "y2": {"field": "q3"}}},
  {"data": {"name": "boxes"}, "transform": [{"filter": "datum.panel == 'D'"}], "mark": {"type": "tick", "thickness": 1.5, "size": 24},
   "encoding": {"y": {"field": "med", "type": "quantitative", "title": ["Carbamazepine", "concentration (mg/L)"]}, "fill": {"field": "dose", "type": "nominal", "scale": {"range": ["#2F528F", "#AE5A21", "#7B7B7B"]}, "legend": null}}},
  {"data": {"name": "boxes"}, "transform": [{"filter": "datum.panel == 'D'"}], "mark": {"type": "point", "shape": "M-1,-0.7L1,0.7M-1,0.7L1,-0.7", "size": 324, "filled": false, "strokeWidth": 1.3, "opacity": 1},
   "encoding": {"y": {"field": "mean", "type": "quantitative", "title": ["Carbamazepine", "concentration (mg/L)"]}, "stroke": {"field": "dose", "type": "nominal", "scale": {"range": ["#2F528F", "#AE5A21", "#7B7B7B"]}, "legend": null}}},
  {"data": {"name": "outliers"}, "transform": [{"filter": "datum.panel == 'D'"}], "mark": {"type": "point", "filled": true, "size": 55, "opacity": 1},
   "encoding": {"y": {"field": "value", "type": "quantitative", "title": ["Carbamazepine", "concentration (mg/L)"]}}}
 ]
},
{
 "width": 438, "height": 440,
 "title": {"text": "CBZ+ more than one AED", "offset": -43},
 "encoding": {
  "x": {"field": "study", "type": "nominal", "scale": {"range": [115, 425.7], "paddingInner": 0, "paddingOuter": 0}, "axis": {"title": null, "offset": -69.7, "labelPadding": 12, "labelAngle": 0, "labelFontSize": 18.5, "labelLineHeight": 22, "grid": false, "labelOverlap": false, "labelExpr": "datum.value == 'Study 2 (PB+PHT)' ? ['', datum.value] : datum.value"}},
  "xOffset": {"field": "dose", "type": "nominal", "scale": {"paddingInner": 0.075, "paddingOuter": 1.46}},
  "color": {"field": "dose", "type": "nominal", "scale": {"range": ["#4472C4", "#ED7D31", "#A5A5A5"]}, "legend": {"title": null, "offset": -87, "symbolType": "square", "labelExpr": "datum.label == '800 BID' ? '600 mg BID' : replace(datum.label, ' BID', ' mg BID')"}}
 },
 "layer": [
  {"data": {"name": "boxes"}, "transform": [{"filter": "datum.panel == 'E'"}], "mark": {"type": "bar", "stroke": "white", "strokeOpacity": 0.45, "strokeWidth": 1.2},
   "encoding": {"y": {"field": "q1", "type": "quantitative", "title": ["Carbamazepine", "concentration (mg/L)"], "scale": {"domain": [0, 35], "range": [370.3, 122], "nice": false, "zero": false}, "axis": {"offset": -115, "values": [0, 5, 10, 15, 20, 25, 30, 35], "labelFontSize": 24}}, "y2": {"field": "q3"}, "opacity": {"value": 0}}},
  {"data": {"name": "boxes"}, "transform": [{"filter": "datum.panel == 'E'"}], "mark": {"type": "rule", "strokeWidth": 1.5},
   "encoding": {"y": {"field": "lo", "type": "quantitative", "title": ["Carbamazepine", "concentration (mg/L)"]}, "y2": {"field": "hi"}}},
  {"data": {"name": "boxes"}, "transform": [{"filter": "datum.panel == 'E'"}], "mark": {"type": "tick", "thickness": 1.5, "size": 8},
   "encoding": {"y": {"field": "lo", "type": "quantitative", "title": ["Carbamazepine", "concentration (mg/L)"]}}},
  {"data": {"name": "boxes"}, "transform": [{"filter": "datum.panel == 'E'"}], "mark": {"type": "tick", "thickness": 1.5, "size": 8},
   "encoding": {"y": {"field": "hi", "type": "quantitative", "title": ["Carbamazepine", "concentration (mg/L)"]}}},
  {"data": {"name": "boxes"}, "transform": [{"filter": "datum.panel == 'E'"}], "mark": {"type": "bar", "stroke": "white", "strokeOpacity": 0.45, "strokeWidth": 1.2},
   "encoding": {"y": {"field": "q1", "type": "quantitative", "title": ["Carbamazepine", "concentration (mg/L)"]}, "y2": {"field": "q3"}}},
  {"data": {"name": "boxes"}, "transform": [{"filter": "datum.panel == 'E'"}], "mark": {"type": "tick", "thickness": 1.5, "size": 24},
   "encoding": {"y": {"field": "med", "type": "quantitative", "title": ["Carbamazepine", "concentration (mg/L)"]}, "fill": {"field": "dose", "type": "nominal", "scale": {"range": ["#2F528F", "#AE5A21", "#7B7B7B"]}, "legend": null}}},
  {"data": {"name": "boxes"}, "transform": [{"filter": "datum.panel == 'E'"}], "mark": {"type": "point", "shape": "M-1,-0.7L1,0.7M-1,0.7L1,-0.7", "size": 324, "filled": false, "strokeWidth": 1.3, "opacity": 1},
   "encoding": {"y": {"field": "mean", "type": "quantitative", "title": ["Carbamazepine", "concentration (mg/L)"]}, "stroke": {"field": "dose", "type": "nominal", "scale": {"range": ["#2F528F", "#AE5A21", "#7B7B7B"]}, "legend": null}}},
  {"data": {"name": "outliers"}, "transform": [{"filter": "datum.panel == 'E'"}], "mark": {"type": "point", "filled": true, "size": 55, "opacity": 1},
   "encoding": {"y": {"field": "value", "type": "quantitative", "title": ["Carbamazepine", "concentration (mg/L)"]}}}
 ]
}
]
}
]
}
